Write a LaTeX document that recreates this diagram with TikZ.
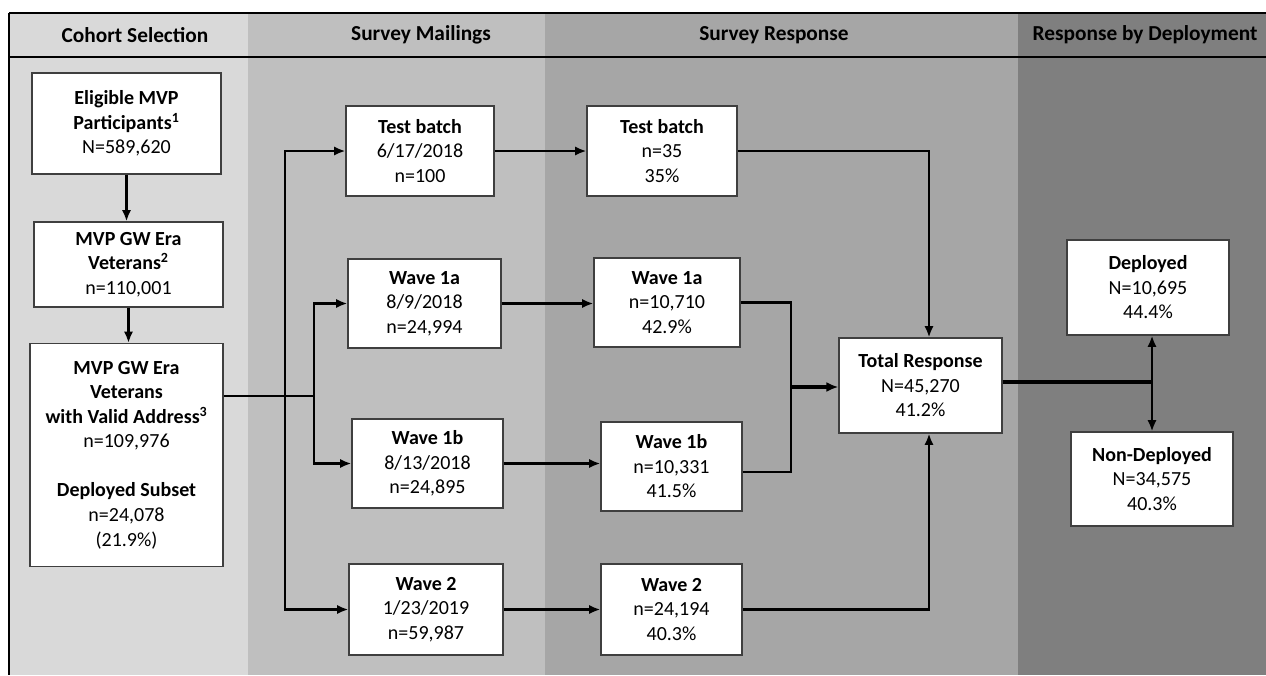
\documentclass[tikz,border=0pt]{standalone}
\usepackage{fontspec}
\setmainfont{Carlito}
\usetikzlibrary{arrows.meta}
\definecolor{colA}{HTML}{D9D9D9}
\definecolor{colB}{HTML}{BFBFBF}
\definecolor{colC}{HTML}{A6A6A6}
\definecolor{colD}{HTML}{7F7F7F}
\definecolor{boxline}{HTML}{3F3F3F}
\tikzset{
  box/.style 2 args={draw=boxline, line width=0.9pt, fill=white, align=center,
    inner sep=0pt, minimum width=#1*0.75pt, minimum height=#2*0.75pt,
    font=\fontsize{15}{18.4}\selectfont},
  hdr/.style={font=\fontsize{16}{18}\selectfont\bfseries, anchor=center},
  conn/.style={line width=1.8pt, line join=miter},
  arr/.style={conn, -{Latex[length=8.5pt,width=7pt]}},
  thickarr/.style={line width=2.6pt, -{Latex[length=9pt,width=7.5pt]}},
}
\begin{document}
\begin{tikzpicture}[x=0.75pt,y=-0.75pt]
\useasboundingbox (0,0) rectangle (1266,675);
% column backgrounds
\fill[colA] (9,13) rectangle (248,675);
\fill[colB] (248,13) rectangle (545,675);
\fill[colC] (545,13) rectangle (1018,675);
\fill[colD] (1018,13) rectangle (1266,675);
% header lines
\draw[line width=1.8pt] (9,13) -- (1266,13);
\draw[line width=1.8pt] (9,57) -- (1266,57);
\draw[line width=1.1pt] (9,13) -- (9,675);
% header texts
\node[hdr] (h1) at (135,35) {Cohort Selection};
\node[hdr] (h2) at (421,35) {Survey Mailings};
\node[hdr] (h3) at (774,35) {Survey Response};
\node[hdr] (h4) at (1145,35) {Response by Deployment};
% cohort boxes
\node[box={189}{101}] (A) at (126.5,123.5) {\textbf{Eligible MVP}\\\textbf{Participants\textsuperscript{1}}\\N=589,620};
\node[box={189}{85}] (B) at (128.5,264.5) {\textbf{MVP GW Era}\\\textbf{Veterans\textsuperscript{2}}\\n=110,001};
\node[box={193}{223}] (C) at (126.5,455) {\textbf{MVP GW Era}\\\textbf{Veterans}\\\textbf{with Valid Address\textsuperscript{3}}\\n=109,976\\\mbox{}\\\textbf{Deployed Subset}\\n=24,078\\(21.9\%)};
% mailing boxes
\node[box={148}{90}] (M0) at (420,151) {\textbf{Test batch}\\6/17/2018\\n=100};
\node[box={153}{89}] (M1) at (424.5,303.5) {\textbf{Wave 1a}\\8/9/2018\\n=24,994};
\node[box={151}{89}] (M2) at (427.5,463.5) {\textbf{Wave 1b}\\8/13/2018\\n=24,895};
\node[box={154}{91}] (M3) at (426,609.5) {\textbf{Wave 2}\\1/23/2019\\n=59,987};
% response boxes
\node[box={150}{90}] (R0) at (662,151) {\textbf{Test batch}\\n=35\\35\%};
\node[box={146}{89}] (R1) at (667,302.5) {\textbf{Wave 1a}\\n=10,710\\42.9\%};
\node[box={141}{89}] (R2) at (671.5,466.5) {\textbf{Wave 1b}\\n=10,331\\41.5\%};
\node[box={141}{91}] (R3) at (671.5,609.5) {\textbf{Wave 2}\\n=24,194\\40.3\%};
\node[box={163}{95}] (T) at (920.5,385.5) {\textbf{Total Response}\\N=45,270\\41.2\%};
% deployment boxes
\node[box={162}{95}] (D) at (1148,287.5) {\textbf{Deployed}\\N=10,695\\44.4\%};
\node[box={162}{94}] (N) at (1152,479) {\textbf{Non-Deployed}\\N=34,575\\40.3\%};
% junction coordinates
\coordinate (j1) at (285,396);
\coordinate (j2) at (314,396);
\coordinate (j3) at (791,387);
\coordinate (tx) at (929,0);
\coordinate (j4) at (1152,382);
% connectors
\draw[arr] (A.south) -- (A.south |- B.north);
\draw[arr] (B.south) -- (B.south |- C.north);
\draw[conn] (C.east |- j1) -- (j2);
\draw[arr] (j1) |- (M0.west);
\draw[arr] (j1) |- (M3.west);
\draw[arr] (j2) |- (M1.west);
\draw[arr] (j2) |- (M2.west);
\draw[arr] (M0.east) -- (M0.east -| R0.west);
\draw[arr] (M1.east) -- (M1.east -| R1.west);
\draw[arr] (M2.east) -- (M2.east -| R2.west);
\draw[arr] (M3.east) -- (M3.east -| R3.west);
\draw[arr] (R0.east) -| (tx |- T.north);
\draw[arr] (R3.east) -| (tx |- T.south);
\draw[conn] (R1.east) -| (j3);
\draw[conn] ([yshift=-4pt]R2.east) -| (j3);
\draw[thickarr] (j3) -- (j3 -| T.west);
\draw[line width=2.6pt] (T.east |- j4) -- (j4);
\draw[arr] (j4) -- (j4 |- D.south);
\draw[arr] (j4) -- (j4 |- N.north);
\end{tikzpicture}
\end{document}
